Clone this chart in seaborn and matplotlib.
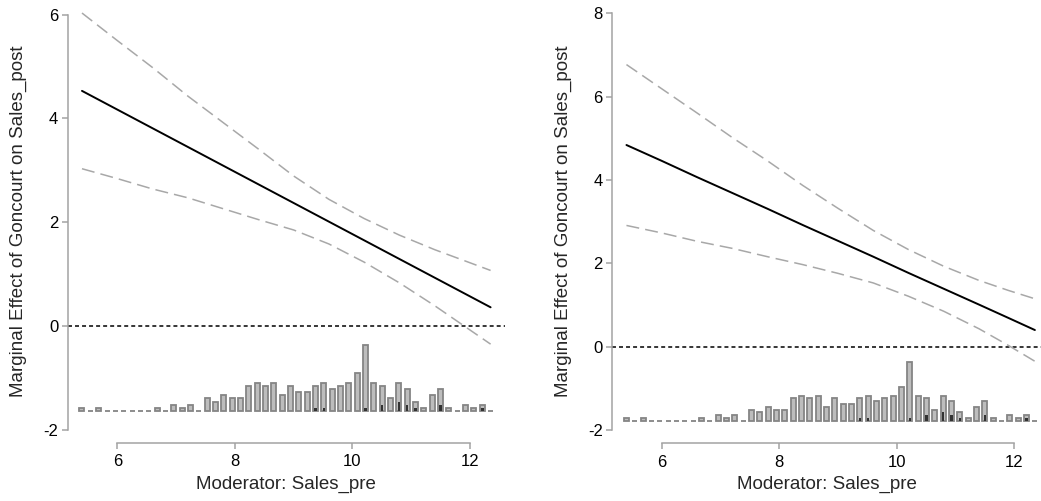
import numpy as np
import pandas as pd
import seaborn as sns
import matplotlib
matplotlib.use("Agg")
import matplotlib.pyplot as plt

sales_pre = [5.40, 6.0, 6.6, 7.2, 7.8, 8.4, 9.0, 9.6, 10.2, 10.8, 11.4, 11.9, 12.35]

# Left panel: marginal effect and 95% bounds
me_left = [4.53, 4.17, 3.81, 3.45, 3.09, 2.73, 2.37, 2.01, 1.65, 1.29, 0.93, 0.63, 0.36]
upper_left = [6.03, 5.50, 4.98, 4.43, 3.92, 3.41, 2.89, 2.44, 2.07, 1.75, 1.47, 1.26, 1.07]
lower_left = [3.03, 2.84, 2.64, 2.47, 2.26, 2.05, 1.85, 1.58, 1.23, 0.83, 0.39, 0.00, -0.35]

# Right panel
me_right = [4.84, 4.46, 4.07, 3.69, 3.31, 2.92, 2.54, 2.16, 1.77, 1.39, 1.01, 0.69, 0.40]
upper_right = [6.77, 6.19, 5.61, 5.02, 4.46, 3.87, 3.32, 2.79, 2.33, 1.93, 1.59, 1.35, 1.15]
lower_right = [2.91, 2.73, 2.53, 2.36, 2.16, 1.97, 1.76, 1.53, 1.21, 0.85, 0.43, 0.03, -0.35]

# Histogram of the moderator (50 bins), all obs and treated obs
hist_range = [5.40, 12.35]
hist_counts = [1, 0, 1, 0, 0, 0, 0, 0, 0, 1,
               0, 2, 1, 2, 0, 4, 3, 5, 4, 4,
               8, 9, 8, 9, 5, 8, 6, 6, 8, 9,
               7, 8, 9, 12, 21, 9, 8, 4, 9, 7,
               3, 1, 5, 7, 1, 0, 2, 1, 2, 0]
hist_treated = [0, 0, 0, 0, 0, 0, 0, 0, 0, 0,
                0, 0, 0, 0, 0, 0, 0, 0, 0, 0,
                0, 0, 0, 0, 0, 0, 0, 0, 1, 1,
                0, 0, 0, 0, 1, 0, 2, 0, 3, 2,
                1, 0, 0, 2, 0, 0, 0, 0, 1, 0]

x_ticks = [6, 8, 10, 12]
y_ticks_left = [-2, 0, 2, 4, 6]
y_ticks_right = [-2, 0, 2, 4, 6, 8]

sns.set_theme(style="ticks")
plt.rcParams['font.family'] = ['Liberation Sans', 'DejaVu Sans']
plt.rcParams['axes.unicode_minus'] = False

W, H = 1041, 501
fig = plt.figure(figsize=(W / 100, H / 100), dpi=100)

AXIS_GREY = "#a3a3a3"
CI_GREY = "#a8a8a8"


def draw_panel(ax, me, upper, lower, yticks, hist_base, hist_top):
    df = pd.DataFrame({"x": sales_pre, "me": me, "up": upper, "lo": lower})

    # histogram at the bottom
    edges = np.linspace(hist_range[0], hist_range[1], len(hist_counts))
    step = edges[1] - edges[0]
    unit = (hist_top - hist_base) / max(hist_counts)
    counts = np.array(hist_counts)
    treated = np.array(hist_treated)
    ax.bar(edges, counts * unit, bottom=hist_base, width=step * 0.6,
           color="#bdbdbd", edgecolor="#858585", linewidth=1.3, zorder=2)
    mask = treated > 0
    ax.bar(edges[mask], treated[mask] * unit, bottom=hist_base, width=step * 0.3,
           color="#333333", linewidth=0, zorder=3)

    ax.axhline(0, color="black", lw=1.1, ls=(0, (2.6, 2.0)), zorder=1)
    sns.lineplot(data=df, x="x", y="up", ax=ax, color=CI_GREY, lw=1.1,
                 ls=(0, (8.5, 4)), zorder=4)
    sns.lineplot(data=df, x="x", y="lo", ax=ax, color=CI_GREY, lw=1.1,
                 ls=(0, (8.5, 4)), zorder=4)
    sns.lineplot(data=df, x="x", y="me", ax=ax, color="black", lw=1.4, zorder=5)

    ax.set_xticks(x_ticks)
    ax.set_yticks(yticks)
    ax.spines["left"].set_bounds(yticks[0], yticks[-1])
    ax.spines["bottom"].set_bounds(x_ticks[0], x_ticks[-1])
    for s in ["left", "bottom"]:
        ax.spines[s].set_color(AXIS_GREY)
        ax.spines[s].set_linewidth(1.1)
    sns.despine(ax=ax)
    ax.tick_params(length=4.3, width=1.1, color=AXIS_GREY, labelsize=12,
                   labelcolor="black")
    ax.tick_params(axis="x", pad=4)
    ax.tick_params(axis="y", pad=2.5)
    ax.set_xlabel("Moderator: Sales_pre", fontsize=13.5)
    ax.set_ylabel("Marginal Effect of Goncourt on Sales_post", fontsize=13.5)


# left panel
ax1 = fig.add_axes([67.7 / W, 58.3 / H, (505 - 67.7) / W, 442.7 / H])
draw_panel(ax1, me_left, upper_left, lower_left, y_ticks_left, -1.638, -0.37)
ax1.set_xlim(5.157, 12.595)
ax1.set_ylim(-2.249, 6.281)
ax1.xaxis.set_label_coords(0.5, -0.074)
ax1.yaxis.set_label_coords(-0.093, 0.5)

# right panel
ax2 = fig.add_axes([612.3 / W, 57.7 / H, (W - 612.3) / W, 443.3 / H])
draw_panel(ax2, me_right, upper_right, lower_right, y_ticks_right, -1.776, -0.37)
ax2.set_xlim(5.159, 12.454)
ax2.set_ylim(-2.318, 8.32)
ax2.xaxis.set_label_coords(0.5, -0.074)
ax2.yaxis.set_label_coords(-0.095, 0.5)

fig.savefig("out.png", dpi=100)
